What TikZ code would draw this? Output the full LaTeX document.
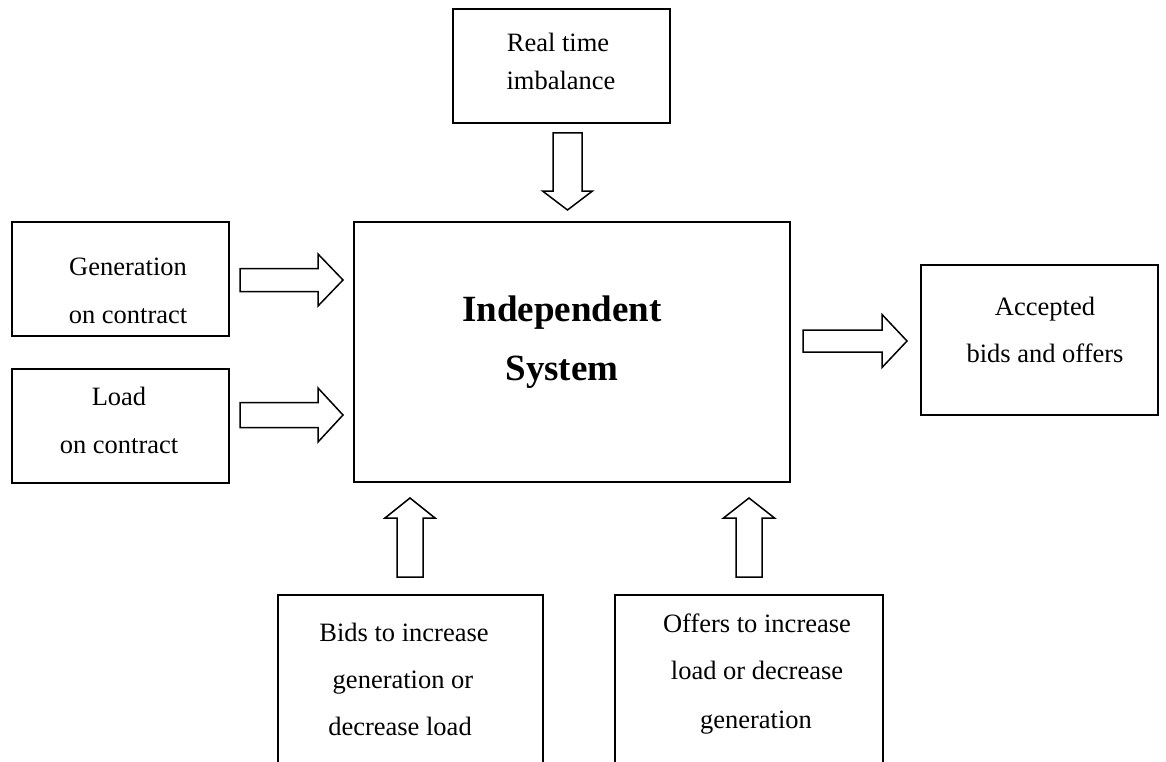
\documentclass[tikz,border=0pt]{standalone}
\usepackage{fontspec}
\setmainfont{Liberation Serif}
\usetikzlibrary{calc}
\tikzset{
  box/.style={draw, line width=1.6pt, inner sep=0pt, fill=white},
  txt/.style={anchor=base, inner sep=0pt, font=\fontsize{26.5}{30}\selectfont},
  bigtxt/.style={anchor=base, inner sep=0pt, font=\fontsize{37}{40}\selectfont\bfseries},
  blk/.style={draw, line width=1.5pt, fill=white, line join=miter}
}
% block arrow: tail, tip, shaft half width, head half width, head length
\newcommand\blockarrow[5]{%
  \draw[blk] ($(#1)!#3!90:(#2)$)
    -- ($(#2)!#5!(#1)!#3!-90:(#1)$)
    -- ($(#2)!#5!(#1)!#4!-90:(#1)$)
    -- (#2)
    -- ($(#2)!#5!(#1)!#4!90:(#1)$)
    -- ($(#2)!#5!(#1)!#3!90:(#1)$)
    -- ($(#1)!#3!-90:(#2)$) -- cycle;}
\begin{document}
\begin{tikzpicture}[x=1pt,y=-1pt]
\useasboundingbox (0,0) rectangle (1166,762);
\clip (0,0) rectangle (1166,762);
% boxes
\node[box, minimum width=217pt, minimum height=114pt] (rt) at (561.5,66) {};
\node[box, minimum width=436pt, minimum height=260pt] (main) at (572,352) {};
\node[box, minimum width=217pt, minimum height=114pt] (gen) at (120.5,279) {};
\node[box, minimum width=217pt, minimum height=114pt] (load) at (120.5,426) {};
\node[box, minimum width=237pt, minimum height=150pt] (acc) at (1039.5,340) {};
\node[box, minimum width=265pt, minimum height=205pt] (bids) at (410.5,697.5) {};
\node[box, minimum width=268pt, minimum height=205pt] (offers) at (749,697.5) {};
% texts
\node[txt] (rt1) at (558,52) {Real time};
\node[txt] (rt2) at (561,90) {imbalance};
\node[txt] (gen1) at (128,275) {Generation};
\node[txt] (gen2) at (128,323) {on contract};
\node[txt] (load1) at (119,405) {Load};
\node[txt] (load2) at (119,453) {on contract};
\node[txt] (acc1) at (1045,315) {Accepted};
\node[txt] (acc2) at (1045,362) {bids and offers};
\node[bigtxt] (main1) at (562,321) {Independent};
\node[bigtxt] (main2) at (562,380) {System};
\node[txt] (bids1) at (404,641) {Bids to increase};
\node[txt] (bids2) at (403,688) {generation or};
\node[txt] (bids3) at (400,735) {decrease load};
\node[txt] (off1) at (757,632) {Offers to increase};
\node[txt] (off2) at (757,679) {load or decrease};
\node[txt] (off3) at (756,728) {generation};
% arrow end points
\coordinate (dT) at (567.5,133); \coordinate (dH) at (567.5,210);
\coordinate (g T) at (240,280); \coordinate (gH) at (343,280);
\coordinate (lT) at (240,415); \coordinate (lH) at (343,415);
\coordinate (aT) at (803,341); \coordinate (aH) at (907,341);
\coordinate (bT) at (410,577); \coordinate (bH) at (410,498);
\coordinate (oT) at (749,577); \coordinate (oH) at (749,498);
% block arrows
\blockarrow{dT}{dH}{14.5pt}{25pt}{19pt}
\blockarrow{g T}{gH}{11.5pt}{26pt}{25pt}
\blockarrow{lT}{lH}{12.5pt}{27pt}{25pt}
\blockarrow{aT}{aH}{11pt}{26.5pt}{25pt}
\blockarrow{bT}{bH}{13pt}{25pt}{20pt}
\blockarrow{oT}{oH}{13pt}{25.5pt}{20pt}
\end{tikzpicture}
\end{document}
